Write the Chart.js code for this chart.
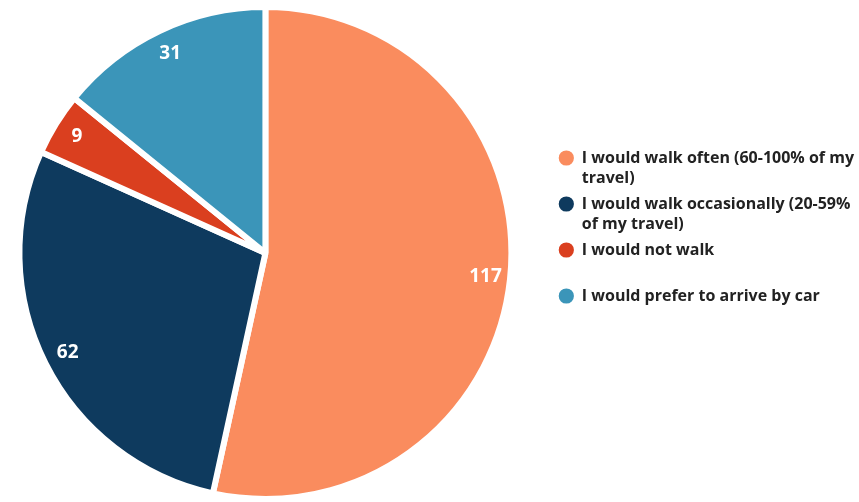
<!DOCTYPE html>
<html>
<head>
<meta charset="utf-8">
<script src="https://cdn.jsdelivr.net/npm/chart.js@4.4.1/dist/chart.umd.min.js"></script>
<style>
  html, body { margin: 0; padding: 0; background: #fff; overflow: hidden; }
  #wrap { width: 886px; height: 502px; position: relative; margin-left: -22px; }
</style>
</head>
<body>
<div id="wrap"><canvas id="graficaCaminar"></canvas></div>
<script>
const categorias = [
    ["I would walk often (60-100% of my", "travel)"],
    ["I would walk occasionally (20-59%", "of my travel)"],
    ["I would not walk", ""],
    "I would prefer to arrive by car"
];
const valores = [117, 62, 9, 31];
const colores = ["#FA8C5E", "#0E3A5E", "#DA3F1F", "#3B95B9"];

// etiquetas blancas dentro de cada sector
const etiquetasSectores = {
    id: "etiquetasSectores",
    afterDatasetsDraw(chart) {
        const ctx = chart.ctx;
        const meta = chart.getDatasetMeta(0);
        ctx.save();
        ctx.fillStyle = "#fff";
        ctx.font = "bold 19px 'Open Sans'";
        ctx.textAlign = "center";
        ctx.textBaseline = "middle";
        meta.data.forEach((arc, i) => {
            const p = arc.getProps(["x", "y", "startAngle", "endAngle", "outerRadius"], true);
            const medio = (p.startAngle + p.endAngle) / 2;
            const r = p.outerRadius * 0.9;
            ctx.fillText(String(valores[i]), p.x + Math.cos(medio) * r, p.y + Math.sin(medio) * r);
        });
        ctx.restore();
    }
};

new Chart(document.getElementById("graficaCaminar"), {
    type: "pie",
    data: {
        labels: categorias,
        datasets: [{
            data: valores,
            backgroundColor: colores,
            borderColor: "#fff",
            borderWidth: 6
        }]
    },
    options: {
        responsive: true,
        maintainAspectRatio: false,
        animation: false,
        layout: { padding: { top: 4, bottom: 0, left: 0, right: 0 } },
        plugins: {
            tooltip: { enabled: false },
            legend: {
                position: "right",
                align: "start",
                title: {
                    display: true,
                    text: "",
                    font: { size: 10, lineHeight: 1 },
                    padding: { top: 130, bottom: 0 }
                },
                labels: {
                    usePointStyle: true,
                    pointStyle: "circle",
                    boxWidth: 15,
                    boxHeight: 15,
                    padding: 6,
                    color: "#222",
                    font: { family: "'Open Sans'", size: 16, weight: "bold", lineHeight: 1.25 }
                }
            }
        }
    },
    plugins: [etiquetasSectores]
});
</script>
</body>
</html>
